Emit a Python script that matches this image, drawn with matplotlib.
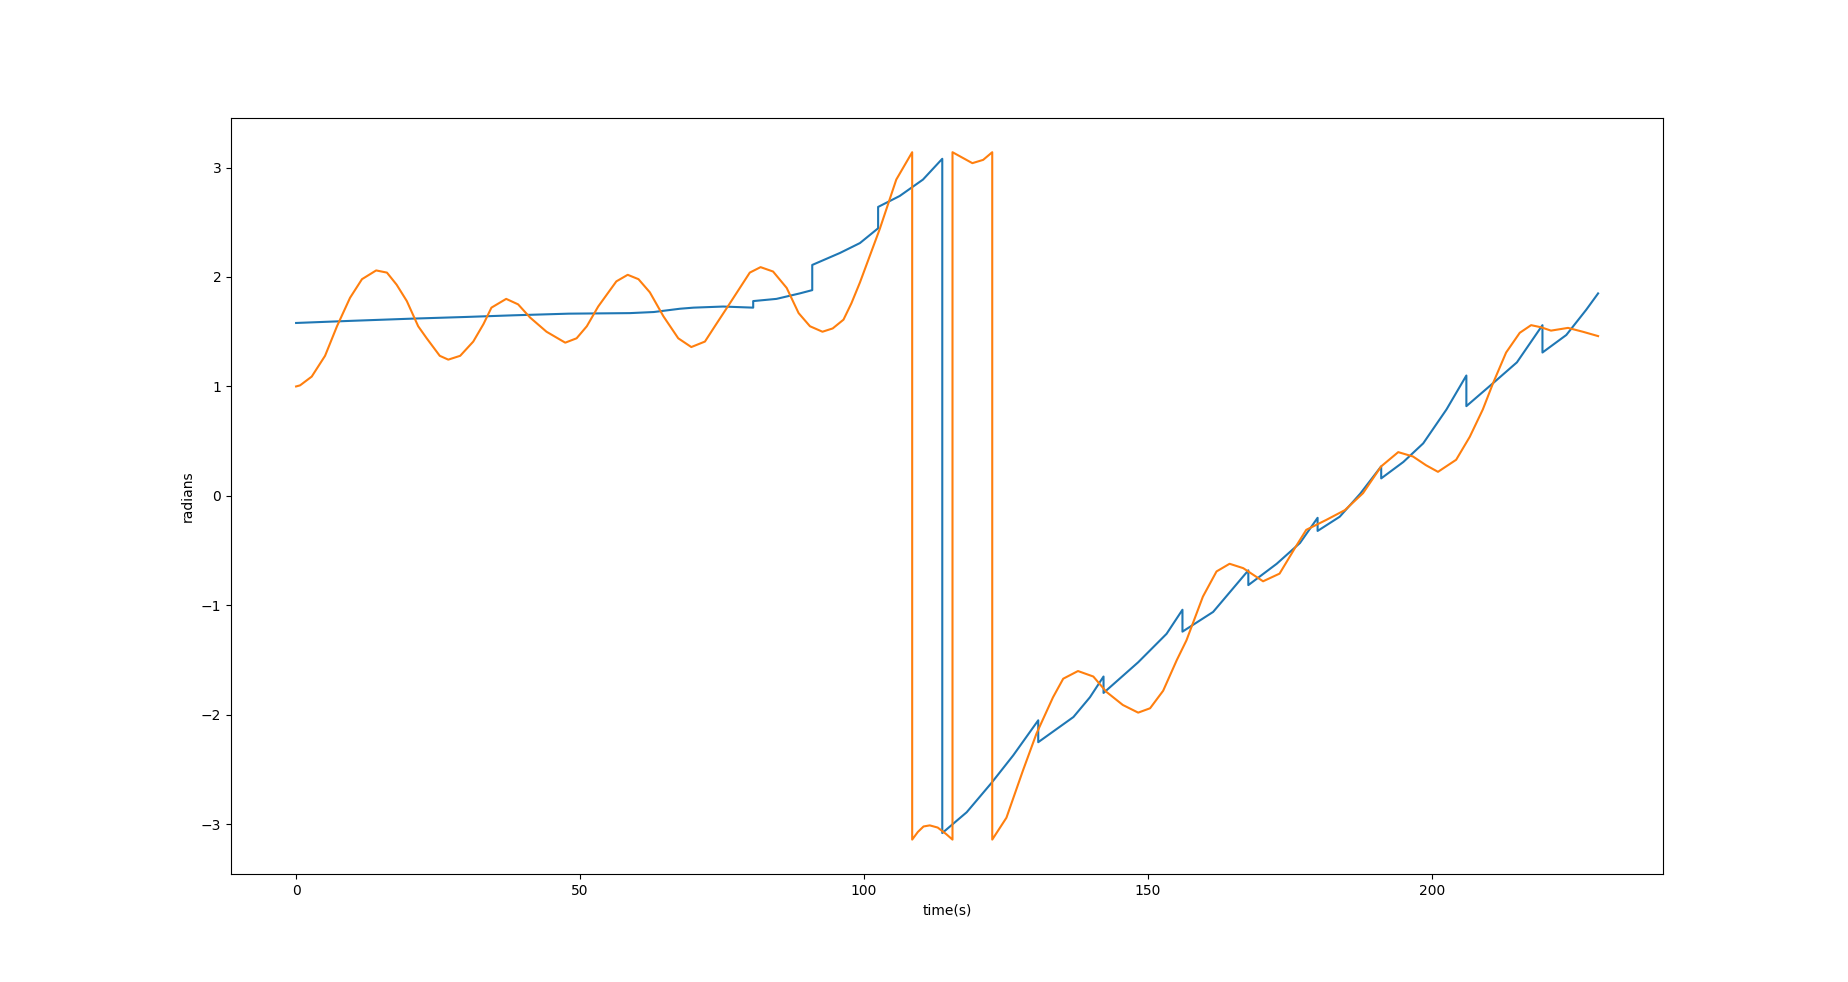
import matplotlib
matplotlib.use("Agg")
import matplotlib.pyplot as plt

# blue series (jumps are two points at the same time)
t_blue = [0, 10, 20.7, 30, 38.3, 48, 58.8, 63, 67.6, 70, 75.2, 80.5, 80.5, 84.6, 88.7,
          90.9, 90.9, 95.8, 99.3, 102.5, 102.5, 106.3, 110.4, 113.8, 113.8, 118.1,
          122.5, 126.3, 130.7, 130.7, 136.9, 139.8, 142.2, 142.2, 148.3, 153.3,
          156.1, 156.1, 161.5, 167.7, 167.7, 172.7, 176.8, 179.9, 179.9, 183.8,
          187.4, 191.1, 191.1, 195.0, 198.5, 202.6, 206.1, 206.1, 210.8, 215.0,
          219.5, 219.5, 223.7, 227.2, 229.3]
y_blue = [1.58, 1.60, 1.62, 1.635, 1.65, 1.665, 1.67, 1.68, 1.71, 1.72, 1.73, 1.72, 1.78,
          1.80, 1.85, 1.88, 2.11, 2.22, 2.31, 2.445, 2.64, 2.74, 2.89, 3.08, -3.08,
          -2.89, -2.62, -2.37, -2.05, -2.25, -2.02, -1.84, -1.65, -1.80, -1.52,
          -1.26, -1.04, -1.24, -1.06, -0.68, -0.815, -0.62, -0.43, -0.20, -0.32,
          -0.19, 0.02, 0.27, 0.16, 0.31, 0.48, 0.79, 1.10, 0.82, 1.03, 1.22, 1.56,
          1.31, 1.47, 1.70, 1.85]

# orange series (wraps at +-pi)
t_orange = [0, 0.7, 2.75, 5.1, 7.2, 9.5, 11.6, 14.1, 16.0, 17.7, 19.5, 21.5, 23.0,
            25.3, 26.8, 28.9, 31.2, 33.0, 34.4, 37.0, 39.1, 41.2, 44.1, 47.4, 49.4,
            51.2, 53.2, 56.4, 58.4, 60.3, 62.3, 64.7, 67.3, 69.6, 72.0, 74.0, 76.4,
            79.9, 81.8, 84.0, 86.4, 88.5, 90.5, 92.7, 94.5, 96.4, 97.8, 99.3, 102.8,
            105.7, 108.5, 108.5, 109.5, 110.5, 111.6, 113.0, 114.5, 115.6, 115.6,
            117.0, 119.1, 121.0, 122.6, 122.6, 125.1, 128.0, 130.4, 133.3, 135.1,
            137.7, 140.4, 142.7, 145.6, 148.3, 150.4, 152.7, 155.1, 156.8, 159.7,
            162.1, 164.4, 166.8, 170.3, 173.2, 176.1, 177.9, 181.4, 184.7, 187.9,
            191.1, 194.1, 196.7, 199.0, 201.1, 204.3, 206.7, 209.0, 210.8, 213.1,
            215.5, 217.5, 219.3, 221.0, 224.0, 226.6, 229.3]
y_orange = [1.00, 1.01, 1.09, 1.28, 1.55, 1.81, 1.98, 2.06, 2.04, 1.93, 1.78, 1.55, 1.44,
            1.28, 1.245, 1.28, 1.41, 1.57, 1.72, 1.80, 1.75, 1.63, 1.50, 1.40, 1.44,
            1.55, 1.73, 1.96, 2.02, 1.98, 1.86, 1.64, 1.44, 1.36, 1.41, 1.57, 1.76,
            2.04, 2.09, 2.05, 1.90, 1.67, 1.55, 1.50, 1.53, 1.61, 1.76, 1.95, 2.44,
            2.89, 3.14, -3.14, -3.07, -3.02, -3.01, -3.03, -3.09, -3.14, 3.14,
            3.10, 3.04, 3.07, 3.14, -3.14, -2.94, -2.51, -2.17, -1.84, -1.67,
            -1.60, -1.65, -1.79, -1.91, -1.98, -1.94, -1.78, -1.50, -1.32, -0.92,
            -0.69, -0.62, -0.66, -0.78, -0.71, -0.46, -0.31, -0.22, -0.13, 0.025,
            0.27, 0.40, 0.36, 0.28, 0.22, 0.33, 0.54, 0.79, 1.03, 1.31,
            1.49, 1.56, 1.54, 1.51, 1.535, 1.50, 1.46]

fig, ax = plt.subplots(figsize=(18.48, 9.82), dpi=100)
ax.plot(t_blue, y_blue)
ax.plot(t_orange, y_orange)
ax.set_xlabel("time(s)")
ax.set_ylabel("radians")
fig.savefig("out.png", dpi=100)
